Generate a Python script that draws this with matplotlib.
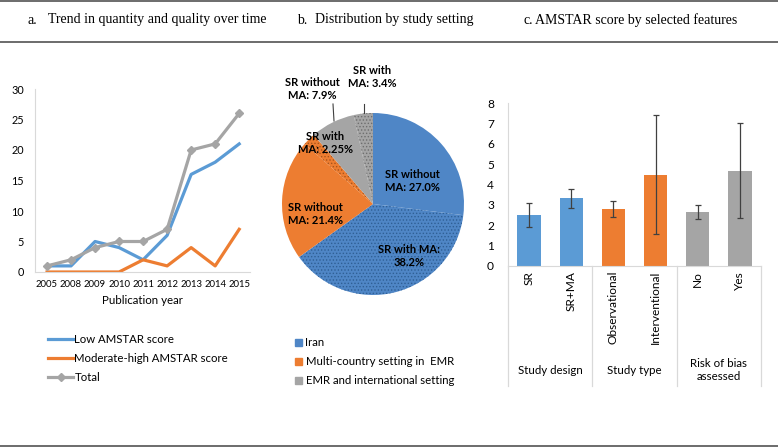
import matplotlib
matplotlib.use("Agg")
import matplotlib.pyplot as plt
from matplotlib.patches import Patch
from matplotlib.lines import Line2D

plt.rcParams['font.family'] = ['Lato', 'DejaVu Sans']
plt.rcParams['hatch.linewidth'] = 0.6

# ---- data ----
years = ['2005', '2008', '2009', '2010', '2011', '2012', '2013', '2014', '2015']
low_amstar = [1, 1, 5, 4, 2, 6, 16, 18, 21]
mod_high_amstar = [0, 0, 0, 0, 2, 1, 4, 1, 7]
total = [1, 2, 4, 5, 5, 7, 20, 21, 26]

settings = ['Iran', 'Multi-country setting in  EMR', 'EMR and international setting']
pie_labels = ['SR without\nMA: 27.0%', 'SR with MA:\n38.2%',
              'SR without\nMA: 21.4%', 'SR with\nMA: 2.25%',
              'SR without\nMA: 7.9%', 'SR with\nMA: 3.4%']
pie_values = [27.0, 38.2, 21.4, 2.25, 7.9, 3.4]

bar_cats = ['SR', 'SR+MA', 'Observational', 'Interventional', 'No', 'Yes']
bar_groups = ['Study design', 'Study type', 'Risk of bias\nassessed']
bar_means = [2.5, 3.32, 2.79, 4.49, 2.65, 4.67]
bar_err = [0.6, 0.48, 0.4, 2.93, 0.36, 2.33]

blue = '#5B9BD5'
orange = '#ED7D31'
grey = '#A5A5A5'
pie_blue = '#4F86C6'

W, H = 778, 448
fig = plt.figure(figsize=(W / 100, H / 100), dpi=100)


def fx(px):
    return px / W


def fy(py):
    return 1 - py / H


# frame lines and titles
for py in [1, 42, 446]:
    fig.add_artist(Line2D([0, 1], [fy(py), fy(py)], color='#606060', lw=1.3))

tfont = dict(family='Liberation Serif', fontsize=10, va='center')
fig.text(fx(27), fy(20), 'a.', **tfont)
fig.text(fx(48), fy(20), 'Trend in quantity and quality over time', **tfont)
fig.text(fx(297), fy(20), 'b.', **tfont)
fig.text(fx(315), fy(20), 'Distribution by study setting', **tfont)
fig.text(fx(523), fy(20), 'c.', **tfont)
fig.text(fx(535), fy(20), 'AMSTAR score by selected features', **tfont)

# ---- panel a: lines ----
ax1 = fig.add_axes([fx(35), fy(272), fx(250) - fx(35), fy(89) - fy(272)])
x = range(len(years))
ax1.plot(x, low_amstar, color=blue, lw=2.3, label='Low AMSTAR score')
ax1.plot(x, mod_high_amstar, color=orange, lw=2.3, label='Moderate-high AMSTAR score')
ax1.plot(x, total, color=grey, lw=2.3, marker='D', ms=4, label='Total')
ax1.set_xlim(-0.5, len(years) - 0.55)
ax1.set_ylim(0, 30)
ax1.set_yticks(range(0, 31, 5))
ax1.set_xticks(list(x))
ax1.set_xticklabels(years)
ax1.tick_params(length=0, labelsize=6.8, pad=6)
ax1.tick_params(axis='y', labelsize=7.8, pad=8)
for s in ['top', 'right']:
    ax1.spines[s].set_visible(False)
for s in ['left', 'bottom']:
    ax1.spines[s].set_color('#D9D9D9')
ax1.set_xlabel('Publication year', fontsize=8.3, labelpad=4)
ax1.legend(loc='upper left', bbox_to_anchor=(fx(38), fy(324)), bbox_transform=fig.transFigure,
           frameon=False, fontsize=8.2, handlelength=2.2, handletextpad=0.1, labelspacing=0.7)

# ---- panel b: pie ----
ax2 = fig.add_axes([fx(373 - 91), fy(204 + 91), fx(182), fy(0) - fy(182)])
cols = [pie_blue, pie_blue, orange, orange, grey, grey]
hatch_cols = ['#2F5F95', '#2F5F95', '#A8541C', '#A8541C', '#6E6E6E', '#6E6E6E']
hatches = [None, '.....', None, '.....', None, '.....']
wedges, _ = ax2.pie(pie_values, colors=cols, startangle=90, counterclock=False,
                    wedgeprops=dict(linewidth=0))
for w, h, hc in zip(wedges, hatches, hatch_cols):
    if h:
        w.set_hatch(h)
        w.set_edgecolor(hc)
ax2.set_xlim(-1, 1)
ax2.set_ylim(-1, 1)
ax2.axis('off')

label_pos = [(412, 181), (409, 256), (315, 214), (325, 143), (312, 89), (372, 77)]
lfont = dict(fontsize=8, fontweight='bold', ha='center', va='center', linespacing=1.15)
for lab, (px, py) in zip(pie_labels, label_pos):
    fig.text(fx(px), fy(py), lab, **lfont)
fig.add_artist(Line2D([fx(333), fx(334)], [fy(104), fy(121)], color='#404040', lw=0.8))
fig.add_artist(Line2D([fx(364), fx(364)], [fy(104), fy(113)], color='#404040', lw=0.8))

handles = [Patch(color=c) for c in [pie_blue, orange, grey]]
fig.legend(handles, settings, loc='upper left', bbox_to_anchor=(fx(285), fy(327)),
           frameon=False, fontsize=8.2, handlelength=0.6, handleheight=0.6,
           handletextpad=0.3, labelspacing=0.7)

# ---- panel c: bars ----
ax3 = fig.add_axes([fx(508), fy(266), fx(761) - fx(508), fy(103) - fy(266)])
bx = range(len(bar_cats))
ax3.bar(bx, bar_means, width=0.55, color=[blue, blue, orange, orange, grey, grey],
        yerr=bar_err, error_kw=dict(ecolor='#404040', elinewidth=0.9, capsize=2.5, capthick=0.9))
ax3.set_xlim(-0.5, len(bar_cats) - 0.5)
ax3.set_ylim(0, 8)
ax3.set_yticks(range(0, 9))
ax3.set_xticks(list(bx))
ax3.set_xticklabels(bar_cats, rotation=90, va='top')
ax3.tick_params(length=0, labelsize=8.6)
ax3.tick_params(axis='y', pad=10)
for s in ['top', 'right']:
    ax3.spines[s].set_visible(False)
for s in ['left', 'bottom']:
    ax3.spines[s].set_color('#D9D9D9')
tr = ax3.get_xaxis_transform()
for xs in [-0.5, 1.5, 3.5, 5.5]:
    ax3.plot([xs, xs], [0, -0.736], transform=tr, color='#D9D9D9', lw=0.9, clip_on=False)
for i, g in enumerate(bar_groups):
    ax3.text(2 * i + 0.5, -0.64, g, transform=tr, ha='center', va='center', fontsize=8.3)

fig.savefig('out.png', dpi=100)
